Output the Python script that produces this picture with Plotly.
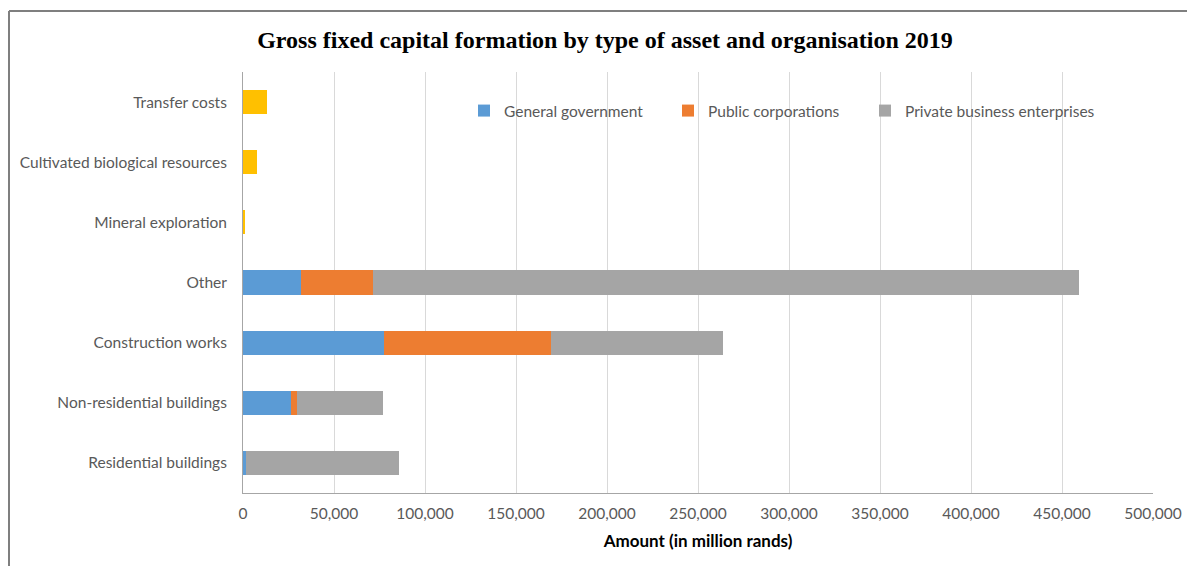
import plotly.graph_objects as go

categories = ["Residential buildings", "Non-residential buildings", "Construction works",
              "Other", "Mineral exploration", "Cultivated biological resources", "Transfer costs"]
general_government = [1600, 26500, 77500, 32000, 0, 0, 0]
public_corporations = [0, 3000, 91700, 39500, 0, 0, 0]
private_business = [84300, 47600, 94700, 388000, 0, 0, 0]
other_assets = [0, 0, 0, 0, 600, 7800, 13200]
x_ticks = [0, 50000, 100000, 150000, 200000, 250000, 300000, 350000, 400000, 450000, 500000]
x_tick_labels = ["0", "50,000", "100,000", "150,000", "200,000", "250,000", "300,000",
                 "350,000", "400,000", "450,000", "500,000"]

FONT = "Lato"
GREY = "#595959"

fig = go.Figure()
fig.add_trace(go.Bar(y=categories, x=general_government, orientation="h",
                     name="General government", legend="legend",
                     marker=dict(color="#5B9BD5", line=dict(width=0))))
fig.add_trace(go.Bar(y=categories, x=public_corporations, orientation="h",
                     name="Public corporations", legend="legend2",
                     marker=dict(color="#ED7D31", line=dict(width=0))))
fig.add_trace(go.Bar(y=categories, x=private_business, orientation="h",
                     name="Private business enterprises", legend="legend3",
                     marker=dict(color="#A5A5A5", line=dict(width=0))))
fig.add_trace(go.Bar(y=categories, x=other_assets, orientation="h",
                     name="Other assets", showlegend=False, marker=dict(color="#FFC000", line=dict(width=0))))

L, R, T, B = 243, 34, 72, 73
W, H = 1187, 566
pw, ph = W - L - R, H - T - B

def px_x(x):
    return (x - L) / pw

def px_y(y):
    return (H - B - y) / ph

def leg(xpx):
    return dict(orientation="h", x=px_x(xpx), xanchor="left", y=px_y(111), yanchor="middle",
                font=dict(family=FONT, size=15.5, color=GREY), bgcolor="rgba(0,0,0,0)")

fig.update_layout(
    width=W, height=H,
    margin=dict(l=L, r=R, t=T, b=B, autoexpand=False),
    barmode="stack", bargap=0.6,
    plot_bgcolor="white", paper_bgcolor="white",
    font=dict(family=FONT, size=15, color=GREY),
    title=dict(text="<b>Gross fixed capital formation by type of asset and organisation 2019</b>",
               x=605 / W, xanchor="center", xref="container",
               y=1 - 40 / H, yanchor="middle", yref="container",
               font=dict(family="Liberation Serif", size=24, color="black")),
    legend=leg(464),
    legend2=leg(668),
    legend3=leg(865),
    xaxis=dict(range=[0, 500000], tickvals=x_ticks, ticktext=x_tick_labels,
               showgrid=True, gridcolor="#D9D9D9", gridwidth=1,
               showline=True, linecolor="#A6A6A6", linewidth=1,
               zeroline=False, ticks="", ticklabelstandoff=6,
               tickfont=dict(family=FONT, size=15.5, color=GREY),
               title=dict(text="<b>Amount (in million rands)</b>", standoff=14,
                          font=dict(family=FONT, size=17, color="black"))),
    yaxis=dict(categoryorder="array", categoryarray=categories,
               showgrid=False, showline=True, linecolor="#A6A6A6", linewidth=1,
               ticks="", ticklabelstandoff=12,
               tickfont=dict(family=FONT, size=15.5, color=GREY)),
    shapes=[
        dict(type="line", xref="paper", yref="paper", x0=px_x(9), x1=px_x(9), y0=px_y(11), y1=px_y(H + 5),
             line=dict(color="#7F7F7F", width=2)),
        dict(type="line", xref="paper", yref="paper", x0=px_x(9), x1=px_x(W + 5), y0=px_y(11), y1=px_y(11),
             line=dict(color="#7F7F7F", width=2)),
    ],
)

fig.write_html("out.html")
